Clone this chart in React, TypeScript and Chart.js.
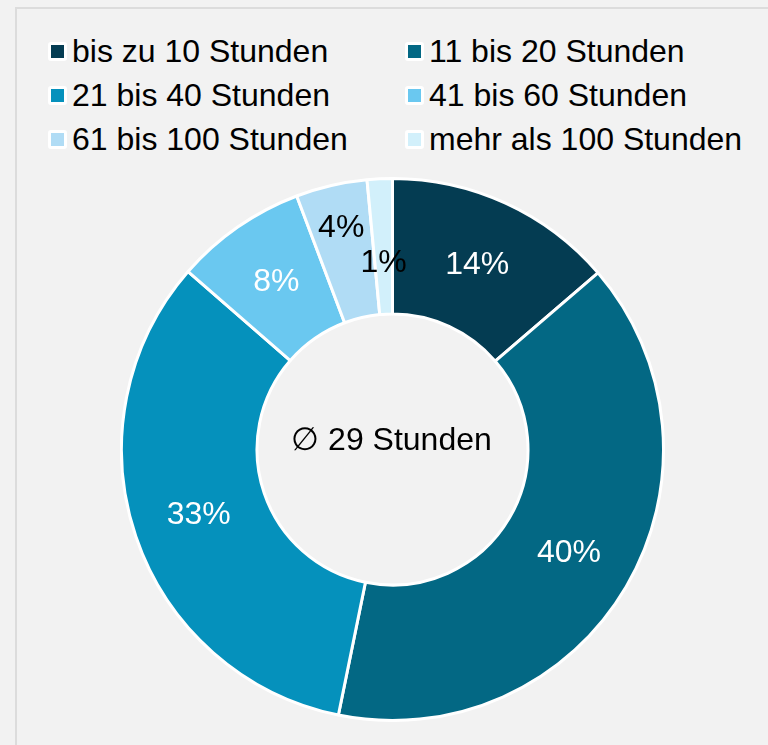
import React, { useEffect, useRef } from "react";
import { Chart, registerables } from "chart.js";

Chart.register(...registerables);

const categories = [
  "bis zu 10 Stunden",
  "11 bis 20 Stunden",
  "21 bis 40 Stunden",
  "41 bis 60 Stunden",
  "61 bis 100 Stunden",
  "mehr als 100 Stunden",
];
const shares = [13.7, 39.5, 33.2, 7.85, 4.25, 1.5];
const shareLabels = ["14%", "40%", "33%", "8%", "4%", "1%"];
const sliceColors = ["#043c52", "#036884", "#0591bc", "#6ac8f0", "#b0dcf5", "#d2f0fb"];
const labelColors = ["#ffffff", "#ffffff", "#ffffff", "#ffffff", "#000000", "#000000"];
const centerText = "\u2205 29 Stunden";

const FONT = "'Liberation Sans', Arial, sans-serif";
const FONT_SIZE = 32;
const labelRadiusFactor = [0.75, 0.755, 0.755, 0.75, 0.838, 0.69];

const labelPlugin = {
  id: "sliceLabels",
  afterDatasetsDraw(chart: any) {
    const ctx = chart.ctx;
    const meta = chart.getDatasetMeta(0);
    ctx.save();
    ctx.font = `${FONT_SIZE}px ${FONT}`;
    ctx.textAlign = "center";
    ctx.textBaseline = "middle";
    meta.data.forEach((arc: any, i: number) => {
      const p = arc.getProps(["x", "y", "startAngle", "endAngle", "outerRadius"], true);
      const mid = (p.startAngle + p.endAngle) / 2;
      const r = p.outerRadius * labelRadiusFactor[i];
      ctx.fillStyle = labelColors[i];
      ctx.fillText(shareLabels[i], p.x + Math.cos(mid) * r, p.y + Math.sin(mid) * r);
    });
    const first = meta.data[0];
    if (first) {
      ctx.fillStyle = "#000000";
      ctx.fillText(centerText, first.x - 1, first.y - 8);
    }
    ctx.restore();
  },
};

export default function App() {
  const canvasRef = useRef<HTMLCanvasElement | null>(null);

  useEffect(() => {
    if (!canvasRef.current) return;
    const chart = new Chart(canvasRef.current, {
      type: "doughnut",
      data: {
        labels: categories,
        datasets: [
          {
            data: shares,
            backgroundColor: sliceColors,
            borderColor: "#ffffff",
            borderWidth: 3,
          },
        ],
      },
      options: {
        responsive: true,
        maintainAspectRatio: false,
        animation: false,
        cutout: "50%",
        layout: { padding: 0 },
        plugins: {
          legend: { display: false },
          tooltip: { enabled: false },
        },
      },
      plugins: [labelPlugin],
    });
    return () => chart.destroy();
  }, []);

  const legendPos = [
    { left: 48, top: 29 },
    { left: 405, top: 29 },
    { left: 48, top: 73 },
    { left: 405, top: 73 },
    { left: 48, top: 117 },
    { left: 405, top: 117 },
  ];

  return (
    <div
      style={{
        position: "fixed",
        left: 0,
        top: 0,
        width: 768,
        height: 745,
        background: "#f2f2f2",
        overflow: "hidden",
        fontFamily: FONT,
      }}
    >
      <div
        style={{
          position: "absolute",
          left: 15,
          top: 7,
          width: 800,
          height: 800,
          border: "2px solid #dcdcdc",
          boxSizing: "border-box",
        }}
      />
      {categories.map((c, i) => (
        <div
          key={c}
          style={{
            position: "absolute",
            left: legendPos[i].left,
            top: legendPos[i].top,
            height: 44,
            lineHeight: "44px",
            display: "flex",
            alignItems: "center",
            fontSize: FONT_SIZE,
            color: "#000",
            whiteSpace: "nowrap",
          }}
        >
          <span
            style={{
              display: "inline-block",
              width: 13,
              height: 13,
              background: sliceColors[i],
              border: "3px solid #ffffff",
              borderRadius: 3,
              marginRight: 5,
            }}
          />
          <span>{c}</span>
        </div>
      ))}
      <div style={{ position: "absolute", left: 120, top: 177, width: 545, height: 545 }}>
        <canvas ref={canvasRef} />
      </div>
    </div>
  );
}
